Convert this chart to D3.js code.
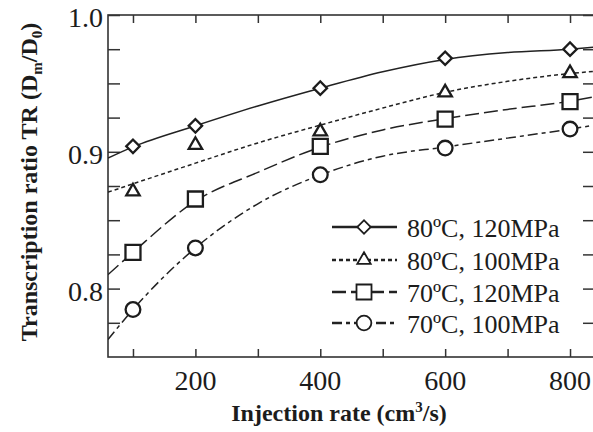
<!DOCTYPE html>
<html>
<head>
<meta charset="utf-8">
<script src="https://cdn.jsdelivr.net/npm/d3@7"></script>
<style>
  html, body { margin: 0; padding: 0; background: #fff; }
  svg { display: block; }
  text { font-family: "Liberation Serif", "Times New Roman", Times, "DejaVu Serif", serif; fill: #1c1c1c; }
</style>
</head>
<body>
<svg id="chart" width="593" height="432"></svg>
<script>
// ---------------- data ----------------
const injectionRates = [100, 200, 400, 600, 800];
const seriesNames = ["80ºC, 120MPa", "80ºC, 100MPa", "70ºC, 120MPa", "70ºC, 100MPa"];
const tr80c120 = [0.904, 0.919, 0.9465, 0.9684, 0.975];
const tr80c100 = [0.871, 0.905, 0.9148, 0.9433, 0.9574];
const tr70c120 = [0.8265, 0.8655, 0.9039, 0.9239, 0.9367];
const tr70c100 = [0.7847, 0.8297, 0.8832, 0.9027, 0.9166];

// fitted curves
const fitRates = [60, 100, 200, 300, 400, 500, 600, 700, 800, 840];
const fit80c120 = [0.8954, 0.9036, 0.919, 0.9335, 0.9465, 0.9585, 0.9675, 0.9725, 0.975, 0.9765];
const fit80c100 = [0.8705, 0.8766, 0.8917, 0.9065, 0.9195, 0.932, 0.9435, 0.9515, 0.9572, 0.9588];
const fit70c120 = [0.8102, 0.8265, 0.864, 0.885, 0.9034, 0.916, 0.9242, 0.931, 0.937, 0.9404];
const fit70c100 = [0.7628, 0.7847, 0.8297, 0.862, 0.883, 0.8968, 0.9035, 0.910, 0.9166, 0.9195];

const xTicks = [100, 200, 300, 400, 500, 600, 700, 800];
const xTickLabels = [200, 400, 600, 800];
const yTicks = [0.775, 0.8, 0.825, 0.85, 0.875, 0.9, 0.925, 0.95, 0.975, 1.0];
const yTickLabels = [0.8, 0.9, 1.0];

// ---------------- setup ----------------
const svg = d3.select("#chart");
const pL = 108, pR = 595, pT = 15, pB = 357;
const x = d3.scaleLinear().domain([60, 840]).range([pL, pR]);
const y = d3.scaleLinear().domain([0.75, 1.0]).range([pB, pT]);
const ink = "#1c1c1c";

svg.append("defs").append("clipPath").attr("id", "plotClip")
  .append("rect").attr("x", pL).attr("y", pT)
  .attr("width", pR - pL).attr("height", pB - pT);

// frame
svg.append("rect").attr("x", pL).attr("y", pT)
  .attr("width", pR - pL).attr("height", pB - pT)
  .attr("fill", "none").attr("stroke", "#333").attr("stroke-width", 1.6);

// ticks via axes (inward)
const xb = d3.axisBottom(x).tickValues(xTicks).tickSizeInner(-8).tickSizeOuter(0).tickFormat("");
const xt = d3.axisTop(x).tickValues(xTicks).tickSizeInner(-8).tickSizeOuter(0).tickFormat("");
const yl = d3.axisLeft(y).tickValues(yTicks).tickSizeInner(-12).tickSizeOuter(0).tickFormat("");
const yr = d3.axisRight(y).tickValues(yTicks).tickSizeInner(-12).tickSizeOuter(0).tickFormat("");
function styleAxis(g) {
  g.select(".domain").remove();
  g.selectAll(".tick line").attr("stroke", "#333").attr("stroke-width", 1.5);
}
svg.append("g").attr("transform", `translate(0,${pB})`).call(xb).call(styleAxis);
svg.append("g").attr("transform", `translate(0,${pT})`).call(xt).call(styleAxis);
svg.append("g").attr("transform", `translate(${pL},0)`).call(yl).call(styleAxis);
svg.append("g").attr("transform", `translate(${pR},0)`).call(yr).call(styleAxis);

// tick labels
svg.append("g").selectAll("text").data(xTickLabels).join("text")
  .attr("x", d => x(d)).attr("y", 390)
  .attr("text-anchor", "middle").attr("font-size", 28)
  .text(d => d);
svg.append("g").selectAll("text").data(yTickLabels).join("text")
  .attr("x", 103).attr("y", d => y(d) + 12)
  .attr("text-anchor", "end").attr("font-size", 28)
  .text(d => d3.format(".1f")(d));

// axis titles
const xTitle = svg.append("text").attr("x", 339).attr("y", 421)
  .attr("text-anchor", "middle").attr("font-size", 24).attr("font-weight", "bold");
xTitle.append("tspan").text("Injection rate (cm");
xTitle.append("tspan").attr("font-size", 15).attr("dy", -9).text("3");
xTitle.append("tspan").attr("dy", 9).text("/s)");

const yTitle = svg.append("text")
  .attr("transform", "translate(37,182) rotate(-90)")
  .attr("text-anchor", "middle").attr("font-size", 24).attr("font-weight", "bold");
yTitle.append("tspan").text("Transcription ratio TR (D");
yTitle.append("tspan").attr("font-size", 15).attr("dy", 5).text("m");
yTitle.append("tspan").attr("dy", -5).text("/D");
yTitle.append("tspan").attr("font-size", 15).attr("dy", 5).text("0");
yTitle.append("tspan").attr("dy", -5).text(")");

// ---------------- series ----------------
const dashes = [null, "4,3", "14,5", "10,4,4,4"];
const symbols = [
  {type: d3.symbolSquare, size: 90, rotate: 45},
  {type: d3.symbolTriangle, size: 78, rotate: 0},
  {type: d3.symbolSquare, size: 225, rotate: 0},
  {type: d3.symbolCircle, size: 170, rotate: 0}
];
const fits = [fit80c120, fit80c100, fit70c120, fit70c100];
const points = [tr80c120, tr80c100, tr70c120, tr70c100];

const line = d3.line().x(d => x(d[0])).y(d => y(d[1])).curve(d3.curveMonotoneX);
const plot = svg.append("g").attr("clip-path", "url(#plotClip)");

fits.forEach((f, i) => {
  plot.append("path")
    .datum(fitRates.map((r, k) => [r, f[k]]))
    .attr("d", line)
    .attr("fill", "none").attr("stroke", "#222").attr("stroke-width", 1.5)
    .attr("stroke-dasharray", dashes[i]);
});

function symbolPath(i) {
  return d3.symbol().type(symbols[i].type).size(symbols[i].size)();
}
points.forEach((p, i) => {
  plot.append("g").selectAll("path").data(injectionRates.map((r, k) => [r, p[k]])).join("path")
    .attr("transform", d => `translate(${x(d[0])},${y(d[1])}) rotate(${symbols[i].rotate})`)
    .attr("d", symbolPath(i))
    .attr("fill", "#fff").attr("stroke", ink).attr("stroke-width", 2.3);
});

// ---------------- legend ----------------
const legendRows = [227, 260, 292, 323];
const legend = svg.append("g");
seriesNames.forEach((name, i) => {
  const ry = legendRows[i];
  legend.append("line").attr("x1", 332).attr("x2", 397).attr("y1", ry).attr("y2", ry)
    .attr("stroke", "#222").attr("stroke-width", 2.4).attr("stroke-dasharray", dashes[i]);
  legend.append("path")
    .attr("transform", `translate(364,${ry}) rotate(${symbols[i].rotate})`)
    .attr("d", symbolPath(i))
    .attr("fill", "#fff").attr("stroke", ink).attr("stroke-width", 1.8);
  legend.append("text").attr("x", 407).attr("y", ry + 10)
    .attr("font-size", 26).text(name);
});
</script>
</body>
</html>
